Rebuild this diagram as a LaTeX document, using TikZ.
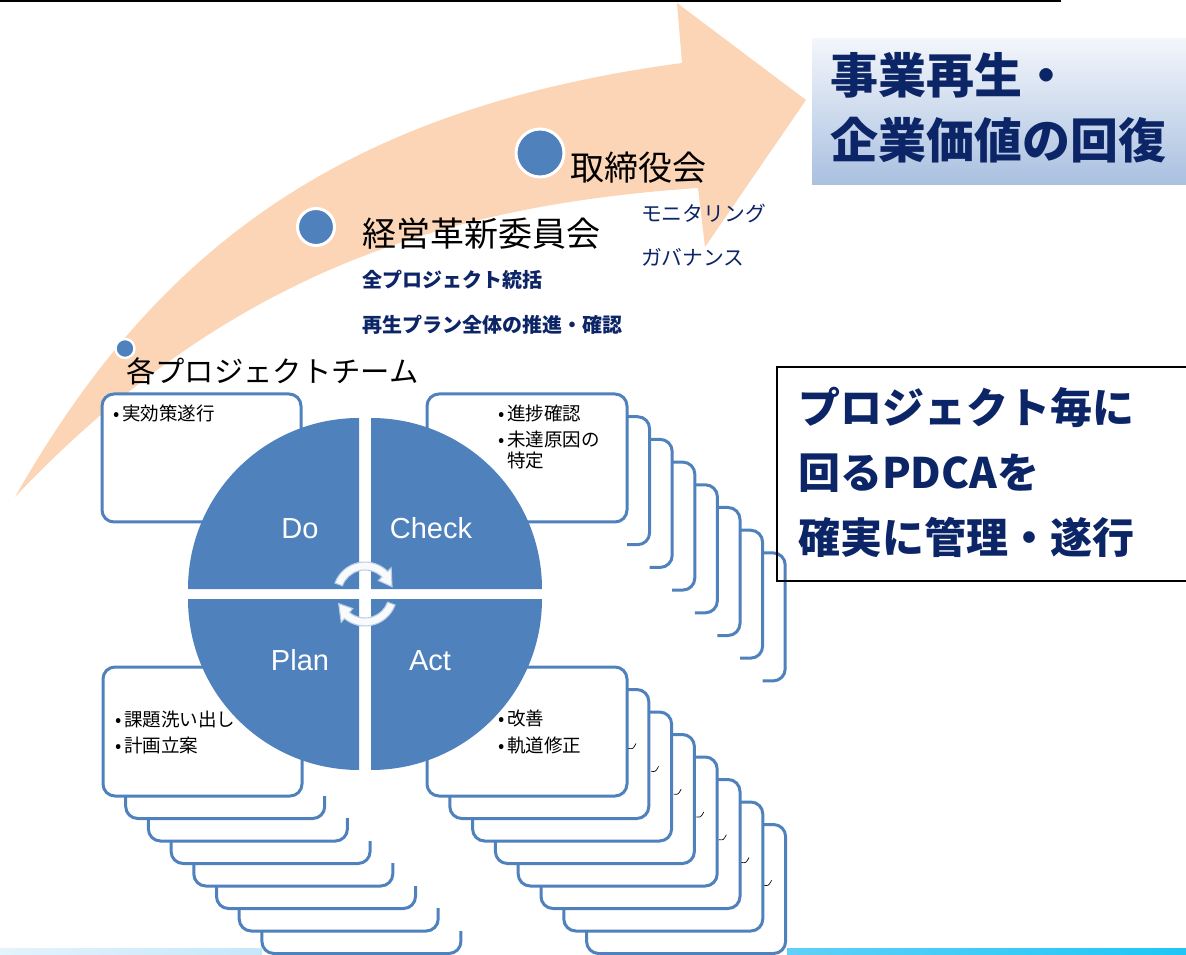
\documentclass[tikz,border=0pt]{standalone}
\usepackage{fontspec}
\setmainfont{Liberation Sans}
\newfontfamily\jp{Noto Sans CJK JP}
\newcommand{\cardfont}{\jp\fontsize{13.9}{16}\selectfont}
\definecolor{peach}{HTML}{FBD5B5}
\definecolor{qblue}{HTML}{4F81BD}
\definecolor{navy}{HTML}{0C2566}
\definecolor{boxtop}{HTML}{F3F6FB}
\definecolor{boxbot}{HTML}{A9C0E0}
\definecolor{stripA}{RGB}{228,243,252}
\definecolor{stripB}{RGB}{198,231,250}
\definecolor{stripC}{RGB}{96,208,248}
\definecolor{stripD}{RGB}{30,198,245}
\tikzset{
  card/.style={draw=qblue, line width=2.25pt, fill=white, rounded corners=9pt},
  lbl/.style={anchor=base west, inner sep=0pt, outer sep=0pt},
  dotc/.style={fill=qblue, draw=white},
  quad/.style={fill=qblue, draw=none},
  pdca/.style={anchor=base, text=white, inner sep=0pt, font=\fontsize{21.75}{24}\selectfont},
  cyc/.style={fill=white!96!qblue, draw=qblue!40, line width=0.8pt},
  smallmark/.style={draw=black, line width=0.5pt},
}
\begin{document}
\begin{tikzpicture}[x=0.75pt,y=-0.75pt]
\useasboundingbox (0,0) rectangle (1186,955);
% top rule
\draw[line width=1.5pt] (0,1) -- (1061,1);
% big curved arrow
\fill[peach] (15,497) .. controls (150,260) and (330,110) .. (682,63) -- (677,3) -- (806,100)
  -- (705,247) -- (698,188) .. controls (450,205) and (230,270) .. (15,497) -- cycle;
% bottom strips
\shade[left color=stripA, right color=stripB] (0,948) rectangle (262,955);
\shade[left color=stripC, right color=stripD] (787,948) rectangle (1186,955);
% goal box
\shade[top color=boxtop, bottom color=boxbot] (812,39) rectangle (1186,185);
\node[lbl, text=navy, font=\jp\bfseries\fontsize{36}{40}\selectfont] (goalA) at (830,94) {事業再生・};
\node[lbl, text=navy, font=\jp\bfseries\fontsize{36}{40}\selectfont] (goalB) at (830,159) {企業価値の回復};
% stage dots
\draw[dotc, line width=2.25pt] (540,153) circle (24);
\draw[dotc, line width=2.25pt] (316,227) circle (18.5);
\draw[dotc, line width=1.8pt] (125,348.5) circle (9.5);
\node[lbl, font=\jp\fontsize{25.5}{28}\selectfont] (board) at (570,181) {取締役会};
\node[lbl, font=\jp\fontsize{25.5}{28}\selectfont] (comm) at (362,247) {経営革新委員会};
\node[lbl, font=\jp\fontsize{22}{26}\selectfont] (team) at (126,383) {各プロジェクトチーム};
\node[lbl, text=navy, font=\jp\bfseries\fontsize{15}{18}\selectfont] (commA) at (362,287.5) {全プロジェクト統括};
\node[lbl, text=navy, font=\jp\bfseries\fontsize{15}{18}\selectfont] (commB) at (362,332.5) {再生プラン全体の推進・確認};
\node[lbl, text=navy, font=\jp\fontsize{15.6}{18}\selectfont] (boardA) at (641,222) {モニタリング};
\node[lbl, text=navy, font=\jp\fontsize{15.6}{18}\selectfont] (boardB) at (641,266) {ガバナンス};
% Do card
\draw[card] (102,394) rectangle (301,522);
% Check stack (only right parts of the back cards show)
\foreach \k in {7,6,5,4,3,2,1}{
  \pgfmathsetmacro\xa{427+22.6*\k}
  \pgfmathsetmacro\ya{394+22.7*\k}
  \pgfmathsetmacro\cx{427+22.6*(\k-1)+200}
  \begin{scope}
    \clip (\cx,0) rectangle (1186,955);
    \draw[card] (\xa,\ya) rectangle ++(200,128);
  \end{scope}
}
\draw[card] (427,394) rectangle (627,522);
% Plan stack (only lower parts of the back cards show)
\foreach \k in {7,6,5,4,3,2,1}{
  \pgfmathsetmacro\xa{103+22.7*\k}
  \pgfmathsetmacro\ya{667+22.5*\k}
  \pgfmathsetmacro\cy{667+22.5*(\k-1)+129}
  \begin{scope}
    \clip (0,\cy) rectangle (1186,955);
    \draw[card] (\xa,\ya) rectangle ++(199,129);
  \end{scope}
}
\draw[card] (103,667) rectangle (302,796);
% Act stack
\foreach \k in {7,6,5,4,3,2,1}{
  \pgfmathsetmacro\xa{427+22.8*\k}
  \pgfmathsetmacro\ya{667+22.5*\k}
  \draw[card] (\xa,\ya) rectangle ++(199,129);
}
\draw[card] (427,667) rectangle (627,796);
\foreach \j in {0,...,6}{
  \draw[smallmark] ({628.5+22.6*\j},{748.5+22.8*\j}) .. controls ({633+22.6*\j},{749+22.8*\j}) .. ({636+22.6*\j},{743.5+22.8*\j});
}
% card texts
\node[lbl, font=\cardfont] (dob) at (113,421) {•};
\node[lbl, font=\cardfont] (dot) at (122,421) {実効策遂行};
\node[lbl, font=\cardfont] (chb1) at (498,421) {•};
\node[lbl, font=\cardfont] (cht1) at (507,421) {進捗確認};
\node[lbl, font=\cardfont] (chb2) at (498,447) {•};
\node[lbl, font=\cardfont] (cht2) at (507,447) {未達原因の};
\node[lbl, font=\cardfont] (cht3) at (507,468) {特定};
\node[lbl, font=\cardfont] (plb1) at (115,726) {•};
\node[lbl, font=\cardfont] (plt1) at (124,726) {課題洗い出し};
\node[lbl, font=\cardfont] (plb2) at (115,752) {•};
\node[lbl, font=\cardfont] (plt2) at (124,752) {計画立案};
\node[lbl, font=\cardfont] (acb1) at (498,725) {•};
\node[lbl, font=\cardfont] (act1) at (507,725) {改善};
\node[lbl, font=\cardfont] (acb2) at (498,752) {•};
\node[lbl, font=\cardfont] (act2) at (507,752) {軌道修正};
% PDCA wheel
\fill[quad] (359,589) -- (188,589) arc (180:270:171) -- cycle;
\fill[quad] (371,589) -- (371,418) arc (270:360:171) -- cycle;
\fill[quad] (359,599) -- (188,599) arc (180:90:171) -- cycle;
\fill[quad] (371,599) -- (542,599) arc (0:90:171) -- cycle;
\node[pdca] (qDo) at (300,538) {Do};
\node[pdca] (qCheck) at (431,538) {Check};
\node[pdca] (qPlan) at (300,670) {Plan};
\node[pdca] (qAct) at (430,670) {Act};
\begin{scope}[shift={(365,594)}]
  \filldraw[cyc] (-160:32) arc (-160:-45:32) -- (-45:37) -- (-15:28) -- (-45:19) -- (-45:24) arc (-45:-160:24) -- cycle;
  \filldraw[cyc] (20:32) arc (20:130:32) -- (130:37) -- (160:28) -- (130:19) -- (130:24) arc (130:20:24) -- cycle;
\end{scope}
% message box
\draw[line width=1.5pt] (777,367) rectangle (1190,581);
\node[lbl, text=navy, font=\jp\bfseries\fontsize{31.5}{36}\selectfont] (msgA) at (798,424) {プロジェクト毎に};
\node[lbl, text=navy, font=\jp\bfseries\fontsize{31.5}{36}\selectfont] (msgB) at (798,489) {回るPDCAを};
\node[lbl, text=navy, font=\jp\bfseries\fontsize{31.5}{36}\selectfont] (msgC) at (798,553) {確実に管理・遂行};
\end{tikzpicture}
\end{document}
